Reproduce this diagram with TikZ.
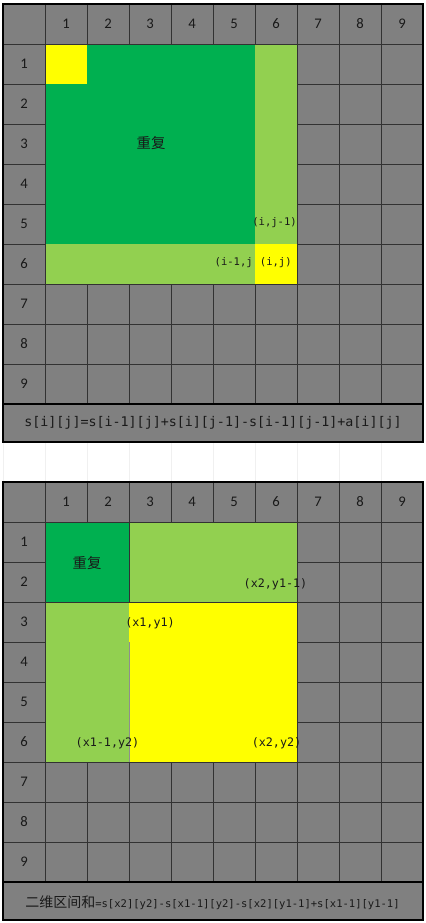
\documentclass[tikz,border=0pt]{standalone}
\usepackage{fontspec}
\setmainfont{Carlito}
\newfontfamily\monofont{DejaVu Sans Mono}
\newfontfamily\cjkfont{Noto Sans CJK SC}
\usepackage{tikz}
\usetikzlibrary{positioning}
\definecolor{cellgray}{RGB}{128,128,128}
\definecolor{darkgreen}{RGB}{0,176,80}
\definecolor{lightgreen}{RGB}{146,208,80}
\definecolor{hlyellow}{RGB}{255,255,0}
\definecolor{gridline}{RGB}{50,50,50}
\definecolor{textdark}{RGB}{25,25,25}
\tikzstyle{num} = [inner sep=0pt, text=textdark, font=\fontsize{11}{13}\selectfont]
\tikzstyle{coord} = [inner sep=0pt, text=textdark, font=\monofont\fontsize{7.9}{9}\selectfont]
\tikzstyle{coordb} = [inner sep=0pt, text=textdark, font=\monofont\fontsize{8.8}{10}\selectfont]
\tikzstyle{repeat} = [inner sep=0pt, text=textdark, font=\cjkfont\fontsize{10.8}{12}\selectfont]
\tikzstyle{formula} = [inner sep=0pt, text=textdark, font=\monofont\fontsize{10}{12}\selectfont]
\tikzstyle{formulab} = [inner sep=0pt, text=textdark, font=\monofont\fontsize{7.9}{9}\selectfont]
\tikzstyle{gline} = [draw=gridline, line width=0.6pt]
\tikzstyle{frame} = [draw=black, line width=1.2pt]
\begin{document}
\begin{tikzpicture}[x=0.75pt, y=-0.75pt]

\useasboundingbox (0,0) rectangle (425,923);

% faint lines between the two tables
\foreach \k in {0,...,9}
  \draw[gray!12, line width=0.6pt] (3+42*\k,442) -- (3+42*\k,482);

% gray tables and their grid ==========================
\foreach \t in {4,482} {
  \fill[cellgray] (3,\t) rectangle (423,\t+438);
  \foreach \k in {0,...,8}
    \draw[gline] (45+42*\k,\t) -- (45+42*\k,\t+400);
  \foreach \k in {0,...,8}
    \draw[gline] (3,\t+40+40*\k) -- (423,\t+40+40*\k);
}

% top table: prefix sum
\fill[darkgreen] (45,44) rectangle (255,244);
\fill[hlyellow] (45,44) rectangle (87,84);
\fill[lightgreen] (255,44) rectangle (297,244);
\fill[lightgreen] (45,244) rectangle (255,284);
\fill[hlyellow] (255,244) rectangle (297,284);
\draw[gline] (45,44) rectangle (297,284);

% bottom table: sub-matrix sum
\fill[darkgreen] (45,522) rectangle (129,602);
\fill[lightgreen] (129,522) rectangle (297,602);
\fill[lightgreen] (45,602) rectangle (129,762);
\fill[hlyellow] (129,602) rectangle (297,762);
\draw[gline] (45,522) rectangle (297,762);
\draw[gline] (129,522) -- (129,602);
\draw[gline] (45,602) -- (297,602);
\draw[draw=gridline!55, line width=0.6pt] (129,642) -- (129,762);

% frames
\foreach \t in {4,482} {
  \draw[frame] (3,\t) rectangle (423,\t+438);
  \draw[frame] (3,\t+400) -- (423,\t+400);
}

% headers
\foreach \k in {1,...,9} {
  \node[num] (colA\k) at (24+42*\k,24) {\k};
  \node[num] (rowA\k) at (24,24+40*\k) {\k};
  \node[num] (colB\k) at (24+42*\k,502) {\k};
  \node[num] (rowB\k) at (24,502+40*\k) {\k};
}

% text only
\node[repeat] (repA) at (151,143) {重复};
\node[coord, anchor=east] (ijm) at (297,223) {(i,j-1)};
\node[coord, anchor=east] (imj) at (253,263) {(i-1,j};
\node[coord, right=5pt of imj] (ij) {(i,j)};
\node[formula] (sumA) at (213,423) {s[i][j]=s[i-1][j]+s[i][j-1]-s[i-1][j-1]+a[i][j]};

\node[repeat] (repB) at (87,563) {重复};
\node[coordb] (xtwoyone) at (275.5,584) {(x2,y1-1)};
\node[coordb] (xoneyone) at (150,623) {(x1,y1)};
\node[coordb] (xoneytwo) at (107.5,743) {(x1-1,y2)};
\node[coordb] (xtwoytwo) at (276.5,743) {(x2,y2)};
\node[formulab] (sumB) at (212.5,903) {{\cjkfont\fontsize{10.5}{12}\selectfont 二维区间和}=s[x2][y2]-s[x1-1][y2]-s[x2][y1-1]+s[x1-1][y1-1]};

\end{tikzpicture}
\end{document}
